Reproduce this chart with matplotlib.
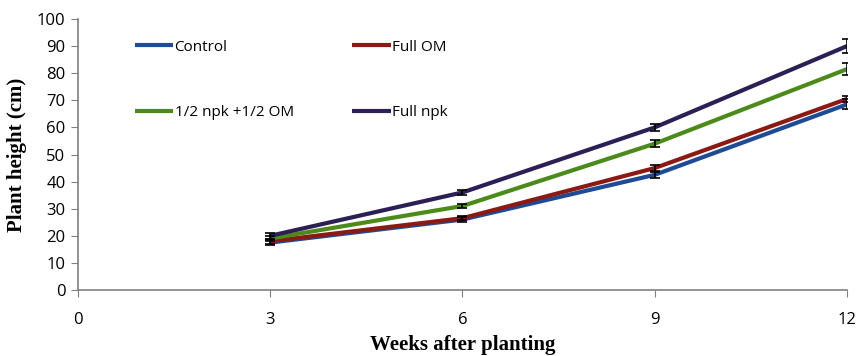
import matplotlib
matplotlib.use("Agg")
import matplotlib.pyplot as plt

weeks = [3, 6, 9, 12]
series_names = ["Control", "Full OM", "1/2 npk +1/2 OM", "Full npk"]
control = [17.5, 26.0, 42.5, 68.5]
full_om = [18.0, 26.5, 45.0, 70.5]
half = [19.0, 31.0, 54.0, 81.5]
full_npk = [20.0, 36.0, 60.0, 90.0]
err_control = [1.0, 0.8, 1.2, 1.8]
err_full_om = [1.0, 0.8, 1.2, 1.0]
err_half = [1.0, 0.8, 1.2, 2.2]
err_full_npk = [1.0, 0.8, 1.2, 2.6]
xticks = [0, 3, 6, 9, 12]
yticks = list(range(0, 101, 10))

colors = ["#1F4A94", "#8B1A14", "#4C8A1C", "#2C1F55"]
data = [control, full_om, half, full_npk]
errs = [err_control, err_full_om, err_half, err_full_npk]

fig = plt.figure(figsize=(8.58, 3.56), dpi=100)
ax = fig.add_axes([0.0909, 0.1854, 0.8962, 0.7612])
handles = []
for name, vals, e, c in zip(series_names, data, errs, colors):
    ax.errorbar(weeks, vals, yerr=e, fmt='none', ecolor='black', elinewidth=1.2, capsize=3.5, capthick=1.2, zorder=3)
    h, = ax.plot(weeks, vals, color=c, lw=3, label=name, zorder=2, solid_capstyle='butt')
    handles.append(h)

ax.set_xlim(0, 12)
ax.set_ylim(0, 100)
ax.set_xticks(xticks)
ax.set_yticks(yticks)
ax.tick_params(axis='both', direction='out', length=5, color='#808080', labelsize=12, pad=11)
ax.tick_params(axis='y', pad=4)
for lbl in ax.get_xticklabels() + ax.get_yticklabels():
    lbl.set_family('Open Sans')
for s in ['top', 'right']:
    ax.spines[s].set_visible(False)
for s in ['left', 'bottom']:
    ax.spines[s].set_color('#808080')
    ax.spines[s].set_linewidth(1.2)

ax.set_xlabel("Weeks after planting", fontsize=15, fontweight='bold', family='Liberation Serif', labelpad=5)
ax.set_ylabel("Plant height (cm)", fontsize=15, fontweight='bold', family='Liberation Serif', labelpad=7)

order = [0, 2, 1, 3]
leg = ax.legend([handles[i] for i in order], [series_names[i] for i in order], ncol=2,
                loc='upper left', bbox_to_anchor=(0.056, 0.975), frameon=False,
                handlelength=2.5, handletextpad=0.1, labelspacing=3.3,
                columnspacing=3.85, prop={'family': 'Open Sans', 'size': 11})
fig.savefig("out.png", dpi=100)
